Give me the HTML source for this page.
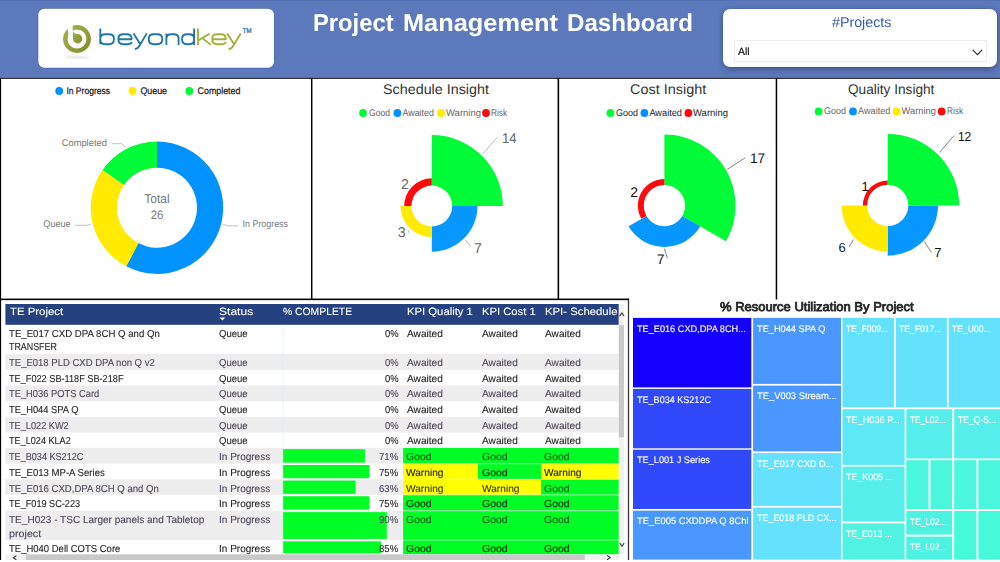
<!DOCTYPE html>
<html lang="en"><head><meta charset="utf-8"><title>Project Management Dashboard</title>
<style>
*{margin:0;padding:0;box-sizing:border-box}
html,body{width:1000px;height:562px;overflow:hidden;background:#fff;font-family:"Liberation Sans",sans-serif;text-rendering:geometricPrecision}
body{position:relative}
#gfx{position:absolute;left:0;top:0;width:1000px;height:562px}
#gfx text{font-family:"Liberation Sans",sans-serif;text-rendering:geometricPrecision}
.t{position:absolute;white-space:nowrap;transform-origin:0 0}
.b{-webkit-text-stroke:0.12px currentColor}
.hb{-webkit-text-stroke:0.22px currentColor}
.hh{-webkit-text-stroke:0.1px currentColor}
.slicer{position:absolute;left:723px;top:9.3px;width:274px;height:58px;background:#fff;border-radius:7px;box-shadow:0 2px 6px rgba(30,40,90,.5),0 0 2px rgba(30,40,90,.2)}
.dd{position:absolute;left:11px;top:31px;width:252.5px;height:21.4px;border:1px solid #ececec;background:#fff}
</style></head><body>

<svg id="gfx" width="1000" height="562" viewBox="0 0 1000 562">
<defs><linearGradient id="ol" x1="0" y1="0" x2="1" y2="1"><stop offset="0" stop-color="#a7b24c"/><stop offset="1" stop-color="#7f8d2a"/></linearGradient><filter id="bl" x="-20%" y="-200%" width="140%" height="500%"><feGaussianBlur stdDeviation="0.8"/></filter></defs>
<rect x="0" y="0" width="1000" height="77.8" fill="#5c7abb"/>
<rect x="0" y="0" width="1000" height="1" fill="#5270b2"/>
<rect x="37.5" y="8.0" width="237.3" height="60.7" rx="7" fill="#4a6ab4" opacity=".75"/>
<rect x="38.3" y="8.7" width="235.7" height="59.1" rx="6" fill="#fff"/>
<circle cx="77" cy="39" r="11.7" fill="none" stroke="url(#ol)" stroke-width="4.4"/>
<path d="M67.2 23L68.7 37H72.7V23Z" fill="#fff"/>
<path d="M72.9 30.6C73.6 33.4 75.6 34 77.6 34A4.7 4.7 0 1 1 72.9 38.7Z" fill="url(#ol)"/>
<ellipse cx="77" cy="57.3" rx="13" ry="0.7" fill="#d2d2d2" filter="url(#bl)"/>
<path d="M100.3 28.6V44.2 M105.3 34.2H108.9Q113.9 34.2 113.9 38.6V39.8Q113.9 44.2 108.9 44.2H105.3Q100.3 44.2 100.3 39.8V38.6Q100.3 34.2 105.3 34.2Z M118.4 39.2H131.6V38.6Q131.6 34.2 126.6 34.2H123.4Q118.4 34.2 118.4 38.6V39.8Q118.4 44.2 123.4 44.2H126.6Q131.2 44.2 131.6 41.8 M133.6 33.4L140.6 44.8M146.8 33.4L139.3 46Q137.4 49.4 134.8 48.8 M153.8 34.2H157.2Q162.2 34.2 162.2 38.6V39.8Q162.2 44.2 157.2 44.2H153.8Q148.8 44.2 148.8 39.8V38.6Q148.8 34.2 153.8 34.2Z M166.4 33.4V45M166.4 38.6Q166.4 34.2 171.4 34.2H173.6Q178.6 34.2 178.6 38.6V45 M187.1 34.2H189.1Q194.1 34.2 194.1 38.6V39.8Q194.1 44.2 189.1 44.2H187.1Q182.1 44.2 182.1 39.8V38.6Q182.1 34.2 187.1 34.2Z M194.1 28.6V45" fill="none" stroke="#2074a8" stroke-width="1.85" stroke-linejoin="round"/>
<path d="M198 28.6V45M198 40.6L209.6 33.7M202.4 38.1L210.8 44.9 M212.3 39.2H225.7V38.6Q225.7 34.2 220.7 34.2H217.3Q212.3 34.2 212.3 38.6V39.8Q212.3 44.2 217.3 44.2H220.7Q225.3 44.2 225.7 41.8 M227.2 33.4L234.4 44.8M240.8 33.4L233.1 46Q231.2 49.4 228.4 48.8" fill="none" stroke="#a3ae3c" stroke-width="1.85" stroke-linejoin="round"/>
<text x="242.4" y="32.9" font-size="6.8" fill="#2074a8" textLength="9.4" lengthAdjust="spacingAndGlyphs" font-weight="bold">TM</text>
<rect x="0" y="77.75" width="1000" height="1.05" fill="#000"/>
<rect x="0" y="78" width="1.1" height="482" fill="#000"/>
<rect x="311.0" y="78" width="1.45" height="221.5" fill="#000"/>
<rect x="557.55" y="78" width="1.6" height="221.5" fill="#000"/>
<rect x="775.7" y="78" width="1.5" height="221.5" fill="#000"/>
<rect x="0" y="298.55" width="629" height="1.6" fill="#000"/>
<rect x="627.85" y="298.55" width="1.3" height="261.5" fill="#000" opacity=".78"/>
<path d="M157.00 141.50A66.2 66.2 0 1 1 126.24 266.32L138.41 243.12A40 40 0 1 0 157.00 167.70Z" fill="#0092ff"/>
<path d="M126.24 266.32A66.2 66.2 0 0 1 102.52 170.09L124.08 184.98A40 40 0 0 0 138.41 243.12Z" fill="#ffea00"/>
<path d="M102.52 170.09A66.2 66.2 0 0 1 157.00 141.50L157.00 167.70A40 40 0 0 0 124.08 184.98Z" fill="#00fc36"/>
<circle cx="59.2" cy="91" r="3.9" fill="#0092ff"/>
<circle cx="132.5" cy="91" r="3.9" fill="#ffea00"/>
<circle cx="189.3" cy="91" r="3.9" fill="#00fc36"/>
<path d="M431.80 135.00A71.0 71.0 0 0 1 502.80 206.00L452.20 206.00A20.4 20.4 0 0 0 431.80 185.60Z" fill="#00fc36"/><path d="M477.50 206.00A45.7 45.7 0 0 1 431.80 251.70L431.80 226.40A20.4 20.4 0 0 0 452.20 206.00Z" fill="#0698ff"/><path d="M431.80 237.24A31.24 31.24 0 0 1 400.56 206.00L411.40 206.00A20.4 20.4 0 0 0 431.80 226.40Z" fill="#ffea00"/><path d="M404.17 206.00A27.63 27.63 0 0 1 431.80 178.37L431.80 185.60A20.4 20.4 0 0 0 411.40 206.00Z" fill="#ff0a0a"/>
<path d="M664.40 134.50A71.1 71.1 0 0 1 725.97 241.15L682.24 215.90A20.6 20.6 0 0 0 664.40 185.00Z" fill="#00fc36"/><path d="M700.24 226.29A41.39 41.39 0 0 1 628.56 226.30L646.56 215.90A20.6 20.6 0 0 0 682.24 215.90Z" fill="#0698ff"/><path d="M641.42 218.87A26.54 26.54 0 0 1 664.40 179.06L664.40 185.00A20.6 20.6 0 0 0 646.56 215.90Z" fill="#ff0a0a"/>
<path d="M887.70 133.90A71.5 71.5 0 0 1 959.20 205.40L908.30 205.40A20.6 20.6 0 0 0 887.70 184.80Z" fill="#00fc36"/><path d="M937.99 205.40A50.29 50.29 0 0 1 887.70 255.69L887.70 226.00A20.6 20.6 0 0 0 908.30 205.40Z" fill="#0698ff"/><path d="M887.70 251.45A46.05 46.05 0 0 1 841.65 205.40L867.10 205.40A20.6 20.6 0 0 0 887.70 226.00Z" fill="#ffea00"/><path d="M862.86 205.40A24.84 24.84 0 0 1 887.70 180.56L887.70 184.80A20.6 20.6 0 0 0 867.10 205.40Z" fill="#ff0a0a"/>
<text x="66.4" y="94" font-size="9.6" fill="#252423" textLength="43.6" lengthAdjust="spacingAndGlyphs" stroke="#252423" stroke-width="0.25">In Progress</text>
<text x="140.4" y="94" font-size="9.6" fill="#252423" textLength="26.6" lengthAdjust="spacingAndGlyphs" stroke="#252423" stroke-width="0.25">Queue</text>
<text x="197.6" y="94" font-size="9.6" fill="#252423" textLength="42.8" lengthAdjust="spacingAndGlyphs" stroke="#252423" stroke-width="0.25">Completed</text>
<text x="61.7" y="145.6" font-size="9.7" fill="#777" textLength="45.2" lengthAdjust="spacingAndGlyphs">Completed</text>
<text x="43.3" y="226.8" font-size="9.7" fill="#777" textLength="27.4" lengthAdjust="spacingAndGlyphs">Queue</text>
<text x="242.6" y="226.7" font-size="9.7" fill="#777" textLength="45.4" lengthAdjust="spacingAndGlyphs">In Progress</text>
<path d="M112.2 143.7H122L125.3 147.6M75.4 225.3H86.8L90.7 224.3M222.9 224.3L228 225.8H238" fill="none" stroke="#c4c4c4" stroke-width="1"/>
<text x="144.3" y="202.6" font-size="12.8" fill="#777" textLength="25.4" lengthAdjust="spacingAndGlyphs">Total</text>
<text x="150.7" y="219.1" font-size="12.4" fill="#777" textLength="12.6" lengthAdjust="spacingAndGlyphs">26</text>
<text x="383" y="94.2" font-size="14" fill="#333" textLength="106" lengthAdjust="spacingAndGlyphs">Schedule Insight</text>
<text x="630" y="94.4" font-size="14" fill="#333" textLength="76.4" lengthAdjust="spacingAndGlyphs">Cost Insight</text>
<text x="848" y="94.2" font-size="14" fill="#333" textLength="86.4" lengthAdjust="spacingAndGlyphs">Quality Insight</text>
<circle cx="363" cy="113" r="3.9" fill="#00fc36"/><text x="369" y="116.2" font-size="9.8" fill="#666" textLength="21" lengthAdjust="spacingAndGlyphs">Good</text><circle cx="397.4" cy="113" r="3.9" fill="#0092ff"/><text x="402.4" y="116.2" font-size="9.8" fill="#666" textLength="31.6" lengthAdjust="spacingAndGlyphs">Awaited</text><circle cx="441" cy="113" r="3.9" fill="#ffea00"/><text x="446" y="116.2" font-size="9.8" fill="#666" textLength="35" lengthAdjust="spacingAndGlyphs">Warning</text><circle cx="486" cy="113" r="3.9" fill="#ff0a0a"/><text x="491" y="116.2" font-size="9.8" fill="#666" textLength="16" lengthAdjust="spacingAndGlyphs">Risk</text>
<circle cx="610.4" cy="113" r="3.9" fill="#00fc36"/><text x="616" y="116.2" font-size="9.8" fill="#222" textLength="22" lengthAdjust="spacingAndGlyphs">Good</text><circle cx="644.4" cy="113" r="3.9" fill="#0092ff"/><text x="649.4" y="116.2" font-size="9.8" fill="#222" textLength="32.6" lengthAdjust="spacingAndGlyphs">Awaited</text><circle cx="688.4" cy="113" r="3.9" fill="#ff0a0a"/><text x="693" y="116.2" font-size="9.8" fill="#222" textLength="35" lengthAdjust="spacingAndGlyphs">Warning</text>
<circle cx="818.6" cy="111.4" r="3.9" fill="#00fc36"/><text x="824" y="114.4" font-size="9.8" fill="#666" textLength="22" lengthAdjust="spacingAndGlyphs">Good</text><circle cx="853" cy="111.4" r="3.9" fill="#0092ff"/><text x="858" y="114.4" font-size="9.8" fill="#666" textLength="32.4" lengthAdjust="spacingAndGlyphs">Awaited</text><circle cx="896.6" cy="111.4" r="3.9" fill="#ffea00"/><text x="901.6" y="114.4" font-size="9.8" fill="#666" textLength="34.4" lengthAdjust="spacingAndGlyphs">Warning</text><circle cx="941.6" cy="111.4" r="3.9" fill="#ff0a0a"/><text x="947" y="114.4" font-size="9.8" fill="#666" textLength="16" lengthAdjust="spacingAndGlyphs">Risk</text>
<text x="502" y="142.5" font-size="14.2" fill="#666" textLength="14.6" lengthAdjust="spacingAndGlyphs">14</text>
<text x="474.0" y="253.4" font-size="14.2" fill="#666">7</text>
<text x="397.8" y="237.2" font-size="14.2" fill="#666">3</text>
<text x="401.1" y="188.8" font-size="14.2" fill="#666">2</text>
<path d="M482.7 154.1L497.1 137.4M464.7 239.6L471 246.6M407.9 233.4L409.4 229.7M409.6 186.3L411.2 184.6" fill="none" stroke="#bdbdbd" stroke-width="1"/>
<text x="750" y="163.3" font-size="14" fill="#111" textLength="15.2" lengthAdjust="spacingAndGlyphs">17</text>
<text x="656.8" y="263.6" font-size="14" fill="#111">7</text>
<text x="630.2" y="196.9" font-size="14" fill="#111">2</text>
<path d="M727.3 169.3L745.2 157.8M664.4 248.6L667.4 258.3" fill="none" stroke="#777" stroke-width="0.9"/>
<text x="957.9" y="140.6" font-size="13" fill="#111" textLength="13.4" lengthAdjust="spacingAndGlyphs">12</text>
<text x="934.3" y="256.8" font-size="13" fill="#111">7</text>
<text x="838.4" y="252.4" font-size="13" fill="#111">6</text>
<text x="861.6" y="190.8" font-size="13" fill="#111">1</text>
<path d="M939.5 152.4L954 135.7M924.3 241.7L931.3 252.2M849 247.1L853.5 239.5" fill="none" stroke="#777" stroke-width="0.9"/>
</svg>
<div class="t" id="title1" style="left:313.00px;top:9px;font-size:24.4px;line-height:30px;color:#fff;transform:scaleX(0.9744);font-weight:bold;">Project</div>
<div class="t" id="title2" style="left:403.00px;top:9px;font-size:24.4px;line-height:30px;color:#fff;transform:scaleX(1.0393);font-weight:bold;">Management</div>
<div class="t" id="title3" style="left:567.00px;top:9px;font-size:24.4px;line-height:30px;color:#fff;transform:scaleX(0.9887);font-weight:bold;">Dashboard</div>
<div class="slicer"><div class="dd"></div></div>
<div class="t" style="left:831.65px;top:14px;font-size:14.2px;line-height:18px;color:#3c5cab;transform:scaleX(1.0052);">#Projects</div>
<div class="t hb" style="left:738.30px;top:45px;font-size:10.5px;line-height:14px;color:#1a1a1a;transform:scaleX(0.9941);">All</div>
<svg class="t" style="left:971.6px;top:48.8px" width="11" height="7" viewBox="0 0 11 7"><path d="M0.7 0.9L5.4 5.6L10.1 0.9" fill="none" stroke="#2b2b2b" stroke-width="1.15"/></svg>
<svg class="t" style="left:0;top:0" width="1000" height="562" viewBox="0 0 1000 562"><rect x="5.4" y="304.0" width="613.4" height="20.8" fill="#26417f"/><rect x="5.4" y="353.9" width="613.4" height="15.9" fill="#ededed"/><rect x="5.4" y="385.4" width="613.4" height="15.8" fill="#ededed"/><rect x="5.4" y="416.8" width="613.4" height="15.7" fill="#ededed"/><rect x="5.4" y="447.9" width="613.4" height="15.8" fill="#ededed"/><rect x="282.8" y="449.2" width="82.1" height="13.4" fill="#00fd26"/><rect x="403.1" y="447.9" width="74.9" height="15.8" fill="#00fd26"/><rect x="478" y="447.9" width="63.0" height="15.8" fill="#00fd26"/><rect x="541" y="447.9" width="77.8" height="15.8" fill="#00fd26"/><rect x="282.8" y="465.0" width="86.7" height="13.2" fill="#00fd26"/><rect x="403.1" y="463.7" width="74.9" height="15.6" fill="#ffff00"/><rect x="478" y="463.7" width="63.0" height="15.6" fill="#00fd26"/><rect x="541" y="463.7" width="77.8" height="15.6" fill="#ffff00"/><rect x="403.2" y="463.2" width="215.6" height="1" fill="#fff" opacity=".55"/><rect x="5.4" y="479.3" width="613.4" height="15.6" fill="#ededed"/><rect x="282.8" y="480.6" width="72.8" height="13.2" fill="#00fd26"/><rect x="403.1" y="479.3" width="74.9" height="15.6" fill="#ffff00"/><rect x="478" y="479.3" width="63.0" height="15.6" fill="#ffff00"/><rect x="541" y="479.3" width="77.8" height="15.6" fill="#00fd26"/><rect x="403.2" y="478.8" width="215.6" height="1" fill="#fff" opacity=".55"/><rect x="282.8" y="496.2" width="86.7" height="13.5" fill="#00fd26"/><rect x="403.1" y="494.9" width="74.9" height="15.9" fill="#00fd26"/><rect x="478" y="494.9" width="63.0" height="15.9" fill="#00fd26"/><rect x="541" y="494.9" width="77.8" height="15.9" fill="#00fd26"/><rect x="403.2" y="494.4" width="215.6" height="1" fill="#fff" opacity=".55"/><rect x="5.4" y="510.8" width="613.4" height="29.2" fill="#ededed"/><rect x="282.8" y="512.1" width="104.0" height="26.8" fill="#00fd26"/><rect x="403.1" y="510.8" width="74.9" height="29.2" fill="#00fd26"/><rect x="478" y="510.8" width="63.0" height="29.2" fill="#00fd26"/><rect x="541" y="510.8" width="77.8" height="29.2" fill="#00fd26"/><rect x="403.2" y="510.3" width="215.6" height="1" fill="#fff" opacity=".55"/><rect x="282.8" y="541.3" width="98.3" height="12.0" fill="#00fd26"/><rect x="403.1" y="540.0" width="74.9" height="14.4" fill="#00fd26"/><rect x="478" y="540.0" width="63.0" height="14.4" fill="#00fd26"/><rect x="541" y="540.0" width="77.8" height="14.4" fill="#00fd26"/><rect x="403.2" y="539.5" width="215.6" height="1" fill="#fff" opacity=".55"/><rect x="282.5" y="324.8" width="0.8" height="229.6" fill="#dfeaf5" opacity=".8"/><rect x="618.8" y="304.4" width="5.2" height="250" fill="#f1f1f1"/><rect x="618.8" y="325.2" width="5.2" height="112" fill="#c9c9c9"/><rect x="5.4" y="554.4" width="613.4" height="5.6" fill="#f1f1f1"/><rect x="26" y="554.4" width="558.8" height="5.6" fill="#c9c9c9"/><path d="M619.6 316.2L621.9 313L624.2 316.2M619.8 543L622 546.2L624.2 543M16.4 555.6L13.3 557.7L16.4 559.8M607 555.4L610.2 557.6L607 559.8" fill="none" stroke="#333" stroke-width="1.05"/><path d="M219.6 317.6h5.6l-2.8 3z" fill="#fff"/></svg>
<div class="t hh" style="left:10.20px;top:305px;font-size:10.6px;line-height:14px;color:#fff;transform:scaleX(1.0752);">TE Project</div>
<div class="t hh" style="left:219.20px;top:305px;font-size:10.6px;line-height:14px;color:#fff;transform:scaleX(1.1381);">Status</div>
<div class="t hh" style="left:283.00px;top:305px;font-size:10.6px;line-height:14px;color:#fff;transform:scaleX(0.9776);">% COMPLETE</div>
<div class="t hh" style="left:406.90px;top:305px;font-size:10.6px;line-height:14px;color:#fff;transform:scaleX(1.0653);">KPI Quality 1</div>
<div class="t hh" style="left:482.00px;top:305px;font-size:10.6px;line-height:14px;color:#fff;transform:scaleX(1.0599);">KPI Cost 1</div>
<div class="t hh" style="left:544.50px;top:305px;font-size:10.6px;line-height:14px;color:#fff;transform:scaleX(1.0699);">KPI- Schedule</div>
<div class="t b" style="left:9.20px;top:328px;font-size:10.1px;line-height:14px;color:#272727;transform:scaleX(0.9543);">TE_E017 CXD DPA 8CH Q and Qn</div>
<div class="t b" style="left:9.20px;top:341px;font-size:10.1px;line-height:14px;color:#272727;transform:scaleX(0.8800);">TRANSFER</div>
<div class="t b" style="left:219.30px;top:328px;font-size:10.1px;line-height:14px;color:#272727;transform:scaleX(0.9464);">Queue</div>
<div class="t b" style="left:384.50px;top:328px;font-size:10.1px;line-height:14px;color:#272727;transform:scaleX(0.9317);">0%</div>
<div class="t b" style="left:406.90px;top:328px;font-size:10.1px;line-height:14px;color:#272727;transform:scaleX(1.0042);">Awaited</div>
<div class="t b" style="left:482.00px;top:328px;font-size:10.1px;line-height:14px;color:#272727;transform:scaleX(1.0042);">Awaited</div>
<div class="t b" style="left:544.50px;top:328px;font-size:10.1px;line-height:14px;color:#272727;transform:scaleX(1.0042);">Awaited</div>
<div class="t b" style="left:9.20px;top:357px;font-size:10.1px;line-height:14px;color:#52475c;transform:scaleX(0.9421);">TE_E018 PLD CXD DPA non Q v2</div>
<div class="t b" style="left:219.30px;top:357px;font-size:10.1px;line-height:14px;color:#52475c;transform:scaleX(0.9464);">Queue</div>
<div class="t b" style="left:384.50px;top:357px;font-size:10.1px;line-height:14px;color:#52475c;transform:scaleX(0.9317);">0%</div>
<div class="t b" style="left:406.90px;top:357px;font-size:10.1px;line-height:14px;color:#52475c;transform:scaleX(1.0042);">Awaited</div>
<div class="t b" style="left:482.00px;top:357px;font-size:10.1px;line-height:14px;color:#52475c;transform:scaleX(1.0042);">Awaited</div>
<div class="t b" style="left:544.50px;top:357px;font-size:10.1px;line-height:14px;color:#52475c;transform:scaleX(1.0042);">Awaited</div>
<div class="t b" style="left:9.20px;top:373px;font-size:10.1px;line-height:14px;color:#272727;transform:scaleX(0.9086);">TE_F022 SB-118F SB-218F</div>
<div class="t b" style="left:219.30px;top:373px;font-size:10.1px;line-height:14px;color:#272727;transform:scaleX(0.9464);">Queue</div>
<div class="t b" style="left:384.50px;top:373px;font-size:10.1px;line-height:14px;color:#272727;transform:scaleX(0.9317);">0%</div>
<div class="t b" style="left:406.90px;top:373px;font-size:10.1px;line-height:14px;color:#272727;transform:scaleX(1.0042);">Awaited</div>
<div class="t b" style="left:482.00px;top:373px;font-size:10.1px;line-height:14px;color:#272727;transform:scaleX(1.0042);">Awaited</div>
<div class="t b" style="left:544.50px;top:373px;font-size:10.1px;line-height:14px;color:#272727;transform:scaleX(1.0042);">Awaited</div>
<div class="t b" style="left:9.20px;top:388px;font-size:10.1px;line-height:14px;color:#52475c;transform:scaleX(0.9245);">TE_H036 POTS Card</div>
<div class="t b" style="left:219.30px;top:388px;font-size:10.1px;line-height:14px;color:#52475c;transform:scaleX(0.9464);">Queue</div>
<div class="t b" style="left:384.50px;top:388px;font-size:10.1px;line-height:14px;color:#52475c;transform:scaleX(0.9317);">0%</div>
<div class="t b" style="left:406.90px;top:388px;font-size:10.1px;line-height:14px;color:#52475c;transform:scaleX(1.0042);">Awaited</div>
<div class="t b" style="left:482.00px;top:388px;font-size:10.1px;line-height:14px;color:#52475c;transform:scaleX(1.0042);">Awaited</div>
<div class="t b" style="left:544.50px;top:388px;font-size:10.1px;line-height:14px;color:#52475c;transform:scaleX(1.0042);">Awaited</div>
<div class="t b" style="left:9.20px;top:404px;font-size:10.1px;line-height:14px;color:#272727;transform:scaleX(0.9262);">TE_H044 SPA Q</div>
<div class="t b" style="left:219.30px;top:404px;font-size:10.1px;line-height:14px;color:#272727;transform:scaleX(0.9464);">Queue</div>
<div class="t b" style="left:384.50px;top:404px;font-size:10.1px;line-height:14px;color:#272727;transform:scaleX(0.9317);">0%</div>
<div class="t b" style="left:406.90px;top:404px;font-size:10.1px;line-height:14px;color:#272727;transform:scaleX(1.0042);">Awaited</div>
<div class="t b" style="left:482.00px;top:404px;font-size:10.1px;line-height:14px;color:#272727;transform:scaleX(1.0042);">Awaited</div>
<div class="t b" style="left:544.50px;top:404px;font-size:10.1px;line-height:14px;color:#272727;transform:scaleX(1.0042);">Awaited</div>
<div class="t b" style="left:9.20px;top:420px;font-size:10.1px;line-height:14px;color:#52475c;transform:scaleX(0.9089);">TE_L022 KW2</div>
<div class="t b" style="left:219.30px;top:420px;font-size:10.1px;line-height:14px;color:#52475c;transform:scaleX(0.9464);">Queue</div>
<div class="t b" style="left:384.50px;top:420px;font-size:10.1px;line-height:14px;color:#52475c;transform:scaleX(0.9317);">0%</div>
<div class="t b" style="left:406.90px;top:420px;font-size:10.1px;line-height:14px;color:#52475c;transform:scaleX(1.0042);">Awaited</div>
<div class="t b" style="left:482.00px;top:420px;font-size:10.1px;line-height:14px;color:#52475c;transform:scaleX(1.0042);">Awaited</div>
<div class="t b" style="left:544.50px;top:420px;font-size:10.1px;line-height:14px;color:#52475c;transform:scaleX(1.0042);">Awaited</div>
<div class="t b" style="left:9.20px;top:435px;font-size:10.1px;line-height:14px;color:#272727;transform:scaleX(0.9021);">TE_L024 KLA2</div>
<div class="t b" style="left:219.30px;top:435px;font-size:10.1px;line-height:14px;color:#272727;transform:scaleX(0.9464);">Queue</div>
<div class="t b" style="left:384.50px;top:435px;font-size:10.1px;line-height:14px;color:#272727;transform:scaleX(0.9317);">0%</div>
<div class="t b" style="left:406.90px;top:435px;font-size:10.1px;line-height:14px;color:#272727;transform:scaleX(1.0042);">Awaited</div>
<div class="t b" style="left:482.00px;top:435px;font-size:10.1px;line-height:14px;color:#272727;transform:scaleX(1.0042);">Awaited</div>
<div class="t b" style="left:544.50px;top:435px;font-size:10.1px;line-height:14px;color:#272727;transform:scaleX(1.0042);">Awaited</div>
<div class="t b" style="left:9.20px;top:451px;font-size:10.1px;line-height:14px;color:#52475c;transform:scaleX(0.9014);">TE_B034 KS212C</div>
<div class="t b" style="left:219.30px;top:451px;font-size:10.1px;line-height:14px;color:#52475c;transform:scaleX(0.9914);">In Progress</div>
<div class="t b" style="left:378.90px;top:451px;font-size:10.1px;line-height:14px;color:#52475c;transform:scaleX(0.9498);">71%</div>
<div class="t b" style="left:406.40px;top:451px;font-size:10.1px;line-height:14px;color:#1d5a1d;transform:scaleX(1.0361);">Good</div>
<div class="t b" style="left:481.50px;top:451px;font-size:10.1px;line-height:14px;color:#1d5a1d;transform:scaleX(1.0361);">Good</div>
<div class="t b" style="left:544.00px;top:451px;font-size:10.1px;line-height:14px;color:#1d5a1d;transform:scaleX(1.0361);">Good</div>
<div class="t b" style="left:9.20px;top:467px;font-size:10.1px;line-height:14px;color:#272727;transform:scaleX(0.9481);">TE_E013 MP-A Series</div>
<div class="t b" style="left:219.30px;top:467px;font-size:10.1px;line-height:14px;color:#272727;transform:scaleX(0.9914);">In Progress</div>
<div class="t b" style="left:378.90px;top:467px;font-size:10.1px;line-height:14px;color:#272727;transform:scaleX(0.9498);">75%</div>
<div class="t b" style="left:406.40px;top:467px;font-size:10.1px;line-height:14px;color:#222;transform:scaleX(1.0071);">Warning</div>
<div class="t b" style="left:481.50px;top:467px;font-size:10.1px;line-height:14px;color:#0a2a0a;transform:scaleX(1.0361);">Good</div>
<div class="t b" style="left:544.00px;top:467px;font-size:10.1px;line-height:14px;color:#222;transform:scaleX(1.0071);">Warning</div>
<div class="t b" style="left:9.20px;top:483px;font-size:10.1px;line-height:14px;color:#52475c;transform:scaleX(0.9480);">TE_E016 CXD,DPA 8CH Q and Qn</div>
<div class="t b" style="left:219.30px;top:483px;font-size:10.1px;line-height:14px;color:#52475c;transform:scaleX(0.9914);">In Progress</div>
<div class="t b" style="left:378.90px;top:483px;font-size:10.1px;line-height:14px;color:#52475c;transform:scaleX(0.9498);">63%</div>
<div class="t b" style="left:406.40px;top:483px;font-size:10.1px;line-height:14px;color:#3a3a10;transform:scaleX(1.0071);">Warning</div>
<div class="t b" style="left:481.50px;top:483px;font-size:10.1px;line-height:14px;color:#3a3a10;transform:scaleX(1.0071);">Warning</div>
<div class="t b" style="left:544.00px;top:483px;font-size:10.1px;line-height:14px;color:#1d5a1d;transform:scaleX(1.0361);">Good</div>
<div class="t b" style="left:9.20px;top:498px;font-size:10.1px;line-height:14px;color:#272727;transform:scaleX(0.9046);">TE_F019 SC-223</div>
<div class="t b" style="left:219.30px;top:498px;font-size:10.1px;line-height:14px;color:#272727;transform:scaleX(0.9914);">In Progress</div>
<div class="t b" style="left:378.90px;top:498px;font-size:10.1px;line-height:14px;color:#272727;transform:scaleX(0.9498);">75%</div>
<div class="t b" style="left:406.40px;top:498px;font-size:10.1px;line-height:14px;color:#0a2a0a;transform:scaleX(1.0361);">Good</div>
<div class="t b" style="left:481.50px;top:498px;font-size:10.1px;line-height:14px;color:#0a2a0a;transform:scaleX(1.0361);">Good</div>
<div class="t b" style="left:544.00px;top:498px;font-size:10.1px;line-height:14px;color:#0a2a0a;transform:scaleX(1.0361);">Good</div>
<div class="t b" style="left:9.20px;top:514px;font-size:10.1px;line-height:14px;color:#52475c;transform:scaleX(0.9934);">TE_H023 - TSC Larger panels and Tabletop</div>
<div class="t b" style="left:9.20px;top:528px;font-size:10.1px;line-height:14px;color:#52475c;transform:scaleX(1.0622);">project</div>
<div class="t b" style="left:219.30px;top:514px;font-size:10.1px;line-height:14px;color:#52475c;transform:scaleX(0.9914);">In Progress</div>
<div class="t b" style="left:378.90px;top:514px;font-size:10.1px;line-height:14px;color:#52475c;transform:scaleX(0.9498);">90%</div>
<div class="t b" style="left:406.40px;top:514px;font-size:10.1px;line-height:14px;color:#1d5a1d;transform:scaleX(1.0361);">Good</div>
<div class="t b" style="left:481.50px;top:514px;font-size:10.1px;line-height:14px;color:#1d5a1d;transform:scaleX(1.0361);">Good</div>
<div class="t b" style="left:544.00px;top:514px;font-size:10.1px;line-height:14px;color:#1d5a1d;transform:scaleX(1.0361);">Good</div>
<div class="t b" style="left:9.20px;top:543px;font-size:10.1px;line-height:14px;color:#272727;transform:scaleX(0.9406);">TE_H040 Dell COTS Core</div>
<div class="t b" style="left:219.30px;top:543px;font-size:10.1px;line-height:14px;color:#272727;transform:scaleX(0.9914);">In Progress</div>
<div class="t b" style="left:378.90px;top:543px;font-size:10.1px;line-height:14px;color:#272727;transform:scaleX(0.9498);">85%</div>
<div class="t b" style="left:406.40px;top:543px;font-size:10.1px;line-height:14px;color:#0a2a0a;transform:scaleX(1.0361);">Good</div>
<div class="t b" style="left:481.50px;top:543px;font-size:10.1px;line-height:14px;color:#0a2a0a;transform:scaleX(1.0361);">Good</div>
<div class="t b" style="left:544.00px;top:543px;font-size:10.1px;line-height:14px;color:#0a2a0a;transform:scaleX(1.0361);">Good</div>
<div class="t" style="left:719.90px;top:299px;font-size:12.7px;line-height:17px;color:#262626;transform:scaleX(1.0245);-webkit-text-stroke:0.8px #262626;">% Resource Utilization By Project</div>
<svg class="t" style="left:0;top:0" width="1000" height="562" viewBox="0 0 1000 562"><rect x="633" y="317.9" width="118.3" height="69.5" fill="#1400ff"/><rect x="633" y="388.9" width="118.3" height="59.4" fill="#3049fb"/><rect x="633" y="449.7" width="118.3" height="59.3" fill="#3049fb"/><rect x="633" y="510.7" width="118.3" height="48.9" fill="#4a97ff"/><rect x="753.1" y="317.9" width="87.9" height="66.0" fill="#4a97ff"/><rect x="753.1" y="385.6" width="87.9" height="65.8" fill="#4a97ff"/><rect x="753.1" y="453.1" width="87.9" height="52.8" fill="#64e2fd"/><rect x="753.1" y="507.6" width="87.9" height="52.0" fill="#64e2fd"/><rect x="842.5" y="317.9" width="51.6" height="89.5" fill="#64e2fd"/><rect x="895.8" y="317.9" width="51.1" height="89.5" fill="#64e2fd"/><rect x="948.7" y="317.9" width="51.3" height="89.5" fill="#64e2fd"/><rect x="842.5" y="409.2" width="62.1" height="55.7" fill="#5ce8f4"/><rect x="842.5" y="466.6" width="62.1" height="55.0" fill="#56eeea"/><rect x="842.5" y="523.4" width="62.1" height="36.2" fill="#50f2e2"/><rect x="906.3" y="409.2" width="45.9" height="49.3" fill="#56eeea"/><rect x="954.2" y="409.2" width="45.8" height="49.3" fill="#56eeea"/><rect x="906.3" y="460.2" width="22.2" height="48.8" fill="#4af6dc"/><rect x="930.5" y="460.2" width="21.7" height="48.8" fill="#4af6dc"/><rect x="954.2" y="460.2" width="22.2" height="48.8" fill="#4af6dc"/><rect x="978.4" y="460.2" width="21.6" height="48.8" fill="#4af6dc"/><rect x="906.3" y="511" width="45.9" height="23.6" fill="#4df3e0"/><rect x="906.3" y="536.6" width="45.9" height="23.0" fill="#4df3e0"/><rect x="954.2" y="511" width="22.2" height="48.6" fill="#46f9d8"/><rect x="978.4" y="511" width="21.6" height="48.6" fill="#46f9d8"/></svg>
<div class="t b" style="left:637.00px;top:323px;font-size:9.6px;line-height:13px;color:#fff;transform:scaleX(0.9553);">TE_E016 CXD,DPA 8CH...</div>
<div class="t b" style="left:637.00px;top:394px;font-size:9.6px;line-height:13px;color:#fff;transform:scaleX(0.9433);">TE_B034 KS212C</div>
<div class="t b" style="left:637.00px;top:454px;font-size:9.6px;line-height:13px;color:#fff;transform:scaleX(0.9553);">TE_L001 J Series</div>
<div class="t b" style="left:637.00px;top:515px;font-size:9.6px;line-height:13px;color:#fff;transform:scaleX(0.9789);">TE_E005 CXDDPA Q 8Chl</div>
<div class="t b" style="left:756.60px;top:323px;font-size:9.6px;line-height:13px;color:#fff;transform:scaleX(0.9604);">TE_H044 SPA Q</div>
<div class="t b" style="left:756.60px;top:390px;font-size:9.6px;line-height:13px;color:#fff;transform:scaleX(0.9763);">TE_V003 Stream...</div>
<div class="t b" style="left:756.60px;top:458px;font-size:9.6px;line-height:13px;color:#fff;transform:scaleX(0.9458);">TE_E017 CXD D...</div>
<div class="t b" style="left:756.60px;top:512px;font-size:9.6px;line-height:13px;color:#fff;transform:scaleX(0.9324);">TE_E018 PLD CX...</div>
<div class="t b" style="left:846.10px;top:323px;font-size:9.6px;line-height:13px;color:#fff;transform:scaleX(0.8886);">TE_F009...</div>
<div class="t b" style="left:899.40px;top:323px;font-size:9.6px;line-height:13px;color:#fff;transform:scaleX(0.8949);">TE_F017...</div>
<div class="t b" style="left:952.30px;top:323px;font-size:9.6px;line-height:13px;color:#fff;transform:scaleX(0.8954);">TE_U00...</div>
<div class="t b" style="left:846.10px;top:414px;font-size:9.6px;line-height:13px;color:#fff;transform:scaleX(0.9523);">TE_H036 P...</div>
<div class="t b" style="left:846.10px;top:471px;font-size:9.6px;line-height:13px;color:#fff;transform:scaleX(0.9251);">TE_K005 ...</div>
<div class="t b" style="left:846.10px;top:528px;font-size:9.6px;line-height:13px;color:#fff;transform:scaleX(0.9094);">TE_E013 ...</div>
<div class="t b" style="left:909.90px;top:414px;font-size:9.6px;line-height:13px;color:#fff;transform:scaleX(0.8601);">TE_L02...</div>
<div class="t b" style="left:957.80px;top:414px;font-size:9.6px;line-height:13px;color:#fff;transform:scaleX(0.8951);">TE_Q-S...</div>
<div class="t b" style="left:909.90px;top:516px;font-size:9.6px;line-height:13px;color:#fff;transform:scaleX(0.8769);">TE_L02...</div>
<div class="t b" style="left:909.90px;top:541px;font-size:9.6px;line-height:13px;color:#fff;transform:scaleX(0.8769);">TE_L02...</div>
</body></html>
